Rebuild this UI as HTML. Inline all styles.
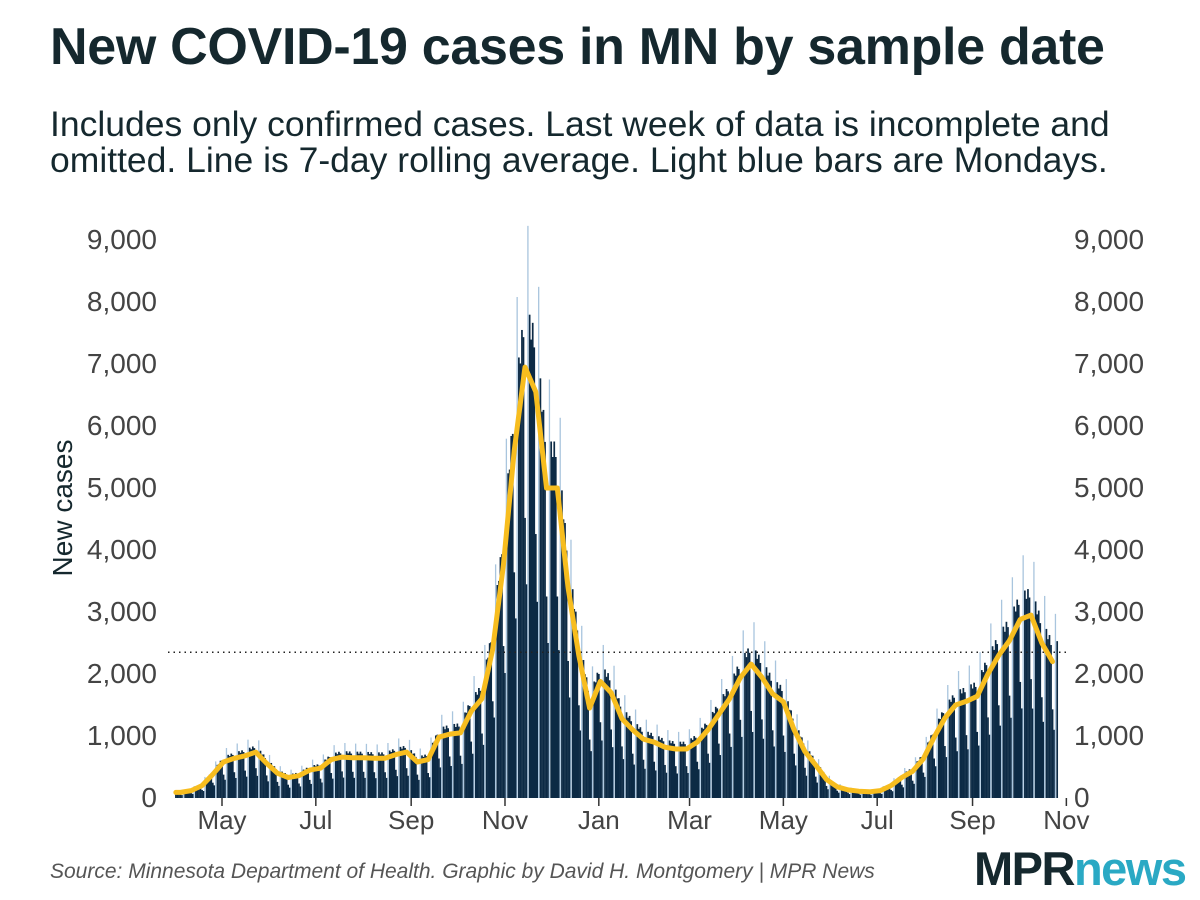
<!DOCTYPE html>
<html><head><meta charset="utf-8">
<style>
body{margin:0;background:#fff;width:1200px;height:900px;overflow:hidden;font-family:"Liberation Sans",sans-serif;}
.t{position:absolute;left:50px;top:17px;font-size:52px;font-weight:bold;color:#15282e;letter-spacing:-0.3px;margin:0;white-space:nowrap}
.s{position:absolute;left:50px;top:106px;font-size:35.5px;color:#15282e;line-height:36px;white-space:nowrap}
.src{position:absolute;left:50px;top:860px;font-size:21px;font-style:italic;color:#555;white-space:nowrap}
.logo{position:absolute;left:974px;top:841px;font-size:47px;font-weight:bold;letter-spacing:-1.5px}
</style></head><body>
<h1 class="t">New COVID-19 cases in MN by sample date</h1>
<div class="s">Includes only confirmed cases. Last week of data is incomplete and<br>omitted. Line is 7-day rolling average. Light blue bars are Mondays.</div>
<svg id="c" width="1200" height="900" style="position:absolute;left:0;top:0"></svg>
<div class="src">Source: Minnesota Department of Health. Graphic by David H. Montgomery | MPR News</div>
<div class="logo"><span style="color:#15282e">MPR</span><span style="color:#2aa9c4">news</span></div>
<script>
// weekly 7-day average values, week i centered at day 7i+3 from Apr 1 2020
const weeklyAvg=[90,120,200,380,580,640,680,740,560,400,330,360,450,480,620,660,650,650,640,640,700,740,580,620,980,1030,1050,1400,1600,2400,3770,5600,6950,6550,5000,5000,3400,2300,1450,1880,1700,1280,1100,950,900,820,790,790,900,1100,1350,1600,1940,2160,1950,1680,1550,1100,750,530,300,180,130,110,100,120,200,330,430,630,980,1290,1500,1560,1640,2000,2300,2540,2880,2950,2500,2200];
// weekday multipliers Mon..Sun
const weekdayFactor=[1.35,1.15,1.1,1.15,1.1,0.65,0.5];
const yTicks=[0,1000,2000,3000,4000,5000,6000,7000,8000,9000];
const xTickLabels=["May","Jul","Sep","Nov","Jan","Mar","May","Jul","Sep","Nov"];
const xTickDays=[30,91,153,214,275,334,395,456,518,579]; // days since Apr 1 2020
const refLine=2350;
const numDays=574;

const svg=document.getElementById('c');const NS='http://www.w3.org/2000/svg';
const X=d=>222+(d-30)*1.538;
const Y=v=>798-v*0.062;
function mk(tag,attrs){const e=document.createElementNS(NS,tag);for(const k in attrs)e.setAttribute(k,attrs[k]);svg.appendChild(e);return e;}
function avgAt(d){const t=(d-3)/7;let i=Math.floor(t);if(i<0)return weeklyAvg[0];if(i>=weeklyAvg.length-1)return weeklyAvg[weeklyAvg.length-1];const f=t-i;return weeklyAvg[i]*(1-f)+weeklyAvg[i+1]*f;}
yTicks.forEach(v=>{
 let a=mk('text',{x:157,y:Y(v)+9,'text-anchor':'end','font-size':28,fill:'#444'});a.textContent=v.toLocaleString('en-US');
 
 
 let b=mk('text',{x:1074,y:Y(v)+9,'font-size':28,fill:'#444'});b.textContent=v.toLocaleString('en-US');
 
 
});
let yt=mk('text',{x:0,y:0,'font-size':28,fill:'#15282e','text-anchor':'middle',transform:'translate(72,508) rotate(-90)'});yt.textContent='New cases';


for(let d=0;d<numDays;d++){
 const dow=(2+d)%7;const v=avgAt(d)*weekdayFactor[dow];
 const r=mk('rect',{x:X(d)-0.8,y:Y(v),width:dow===0?1.3:1.7,height:Y(0)-Y(v),fill:dow===0?'#a9c5de':'#0c2a45'});
 
 
}
xTickDays.forEach((d,i)=>{
 const tk=mk('line',{x1:X(d),x2:X(d),y1:798,y2:806,stroke:'#333','stroke-width':1.5});
 
 
 const t=mk('text',{x:X(d),y:829,'text-anchor':'middle','font-size':26,fill:'#444'});t.textContent=xTickLabels[i];
 
 
});
const rl=mk('line',{x1:168,x2:1068,y1:Y(refLine),y2:Y(refLine),stroke:'#222','stroke-width':1.5,'stroke-dasharray':'1.5 4'});


const pts=weeklyAvg.map((v,i)=>X(7*i+3).toFixed(1)+','+Y(v).toFixed(1));
pts.unshift(X(0)+','+Y(weeklyAvg[0]));
const pl=mk('polyline',{points:pts.join(' '),fill:'none',stroke:'#f7bd1f','stroke-width':5,'stroke-linejoin':'round','stroke-linecap':'round'});


</script>
</body></html>
